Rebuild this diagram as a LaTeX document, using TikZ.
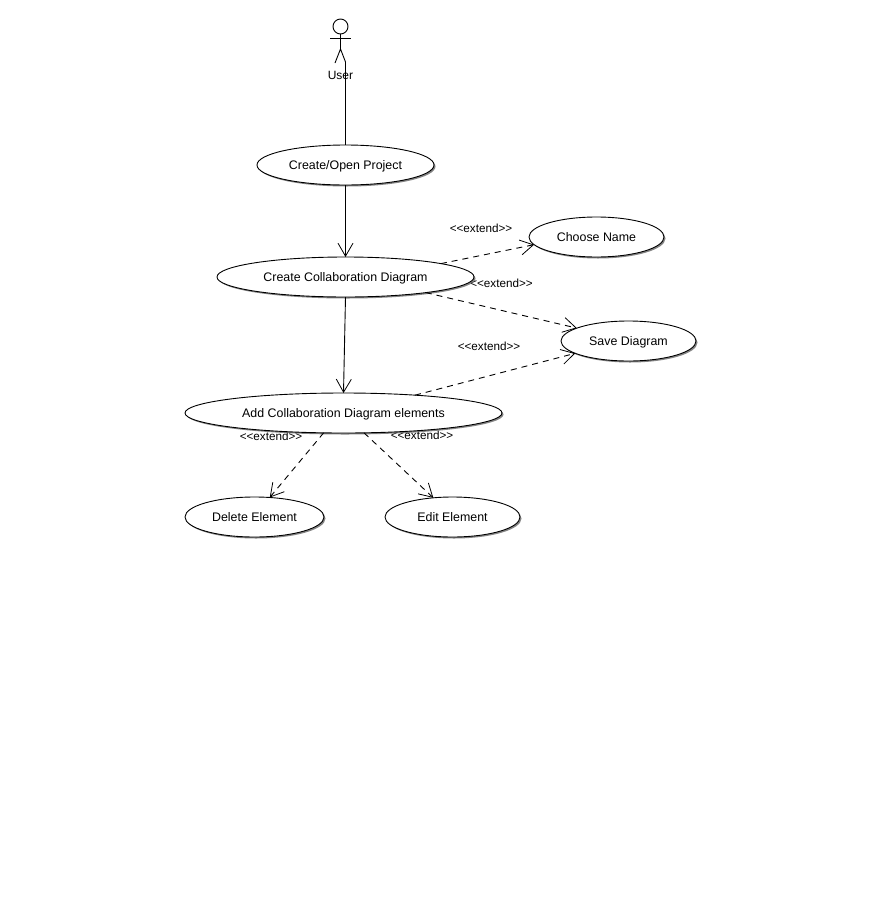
\documentclass[tikz,border=0pt]{standalone}
\usepackage{fontspec}
\setmainfont{Liberation Sans}
\usetikzlibrary{shapes,shapes.geometric,arrows.meta,shadows}
\tikzset{
    usecase/.style={ellipse, draw, fill=white, line width=0.9pt, inner sep=0pt, outer sep=0pt,
        minimum height=40pt, text height=11pt, text depth=3pt, font=\fontsize{12.4}{14}\selectfont,
        drop shadow={shadow xshift=1.5pt, shadow yshift=-1.5pt, fill=black!60, opacity=0.8}},
    extendlabel/.style={font=\fontsize{11.7}{14}\selectfont, inner sep=0pt},
    actorlabel/.style={font=\fontsize{12}{14}\selectfont, inner sep=0pt},
    stickline/.style={line width=0.9pt},
    assoc/.style={line width=0.9pt},
    assocarrow/.style={line width=0.9pt, -{Straight Barb[length=13pt,width=15pt,line width=0.8pt]}},
    extendarrow/.style={line width=0.9pt, dash pattern=on 6pt off 5pt, -{Straight Barb[length=13pt,width=15pt,line width=0.8pt]}}
}
\newcommand{\extendtext}{{<}{<}extend{>}{>}}
\begin{document}
\begin{tikzpicture}[x=1pt,y=-1pt]
    \path[fill=white,use as bounding box] (0,0) rectangle (880,916);
    % Etiquetas (under the ellipses)
    \node[extendlabel] (extname) at (481,228) {\extendtext};
    \node[extendlabel] (extsave) at (501.5,283) {\extendtext};
    \node[extendlabel] (extadd) at (489,346) {\extendtext};
    \node[extendlabel] (extdelete) at (271,436) {\extendtext};
    \node[extendlabel] (extedit) at (422,435) {\extendtext};
    % Actor
    \node[circle, draw, line width=0.9pt, minimum size=15pt, inner sep=0pt, outer sep=0pt] (head) at (340.5,26.5) {};
    \coordinate (armleft) at (330,38);
    \coordinate (armright) at (351,38);
    \coordinate (hip) at (340.5,49);
    \coordinate (footleft) at (335,63);
    \coordinate (footright) at (345.5,62);
    \draw[stickline] (head.south) -- (hip);
    \draw[stickline] (armleft) -- (armright);
    \draw[stickline] (footleft) -- (hip) -- (footright);
    \node[actorlabel] (user) at (340.5,75) {User};
    % Casos de uso
    \node[usecase, minimum width=177pt] (project) at (345.5,165) {Create/Open Project};
    \node[usecase, minimum width=257pt] (collab) at (345.5,277) {Create Collaboration Diagram};
    \node[usecase, minimum width=135pt] (choose) at (596.5,237) {Choose Name};
    \node[usecase, minimum width=135pt] (save) at (628.5,341) {Save Diagram};
    \node[usecase, minimum width=317pt] (add) at (343.5,413) {Add Collaboration Diagram elements};
    \node[usecase, minimum width=139pt] (delete) at (254.5,517) {Delete Element};
    \node[usecase, minimum width=135pt] (edit) at (452.5,517) {Edit Element};
    % Conectores
    \draw[assoc] (footright) -- (project.north);
    \draw[assocarrow] (project.south) -- (collab.north);
    \draw[assocarrow] (collab.south) -- (add.north);
    \draw[extendarrow] (collab.8.7) -- (choose.187.5);
    \draw[extendarrow] (collab.-11.4) -- (save.166.3);
    \draw[extendarrow] (add.14.9) -- (save.193.9);
    \draw[extendarrow] (add.225.7) -- (delete.52);
    \draw[extendarrow] (add.-44.3) -- (edit.135.7);
\end{tikzpicture}
\end{document}
